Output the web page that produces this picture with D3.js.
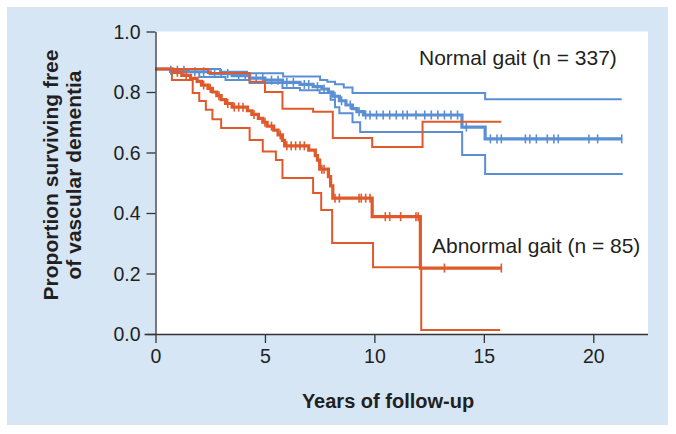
<!DOCTYPE html>
<html><head><meta charset="utf-8">
<script src="https://cdn.jsdelivr.net/npm/d3@7"></script>
<style>
html,body{margin:0;padding:0;background:#fff;}
text{font-family:"Liberation Sans",Arial,Helvetica,sans-serif;fill:#231f20;}
</style></head>
<body><svg id="c" width="676" height="434"></svg>
<script>
// ---- data (years, proportion surviving) ----
const normalMain = [[0,0.876],[0.7,0.872],[1.5,0.867],[2.5,0.861],[3.5,0.854],[4.3,0.846],[5.0,0.839],[5.8,0.832],[6.6,0.825],[7.2,0.818],[7.6,0.81],[7.9,0.80],[8.1,0.786],[8.4,0.771],[8.7,0.757],[9.0,0.745],[9.2,0.735],[9.5,0.724],[14.0,0.684],[15.06,0.645],[21.3,0.645]];
const normalUpper = [[0,0.876],[2.95,0.867],[4.18,0.862],[5.83,0.851],[7.52,0.840],[7.85,0.834],[8.2,0.826],[8.6,0.815],[9.0,0.797],[15.06,0.776],[21.3,0.776]];
const normalLower = [[0,0.876],[0.66,0.866],[2.0,0.85],[3.2,0.84],[4.3,0.83],[5.8,0.813],[6.6,0.806],[7.5,0.797],[8.0,0.774],[8.2,0.75],[8.4,0.73],[9.0,0.70],[9.35,0.668],[14.01,0.592],[15.06,0.529],[21.35,0.529]];
const normalCensor = [0.7,1.0,1.3,1.8,2.2,2.7,3.0,3.3,3.8,4.1,4.6,4.9,5.3,5.6,6.0,6.3,6.8,7.0,7.4,7.7,8.2,8.5,8.9,9.3,9.6,9.8,10.1,10.4,10.7,11.0,11.3,11.5,11.9,12.3,12.6,12.9,13.2,13.5,13.8,14.2,15.3,15.6,15.8,16.9,17.1,17.4,17.9,18.2,18.4,19.8,20.2,21.3];

const abnormalMain = [[0,0.876],[0.8,0.865],[1.2,0.855],[1.6,0.845],[1.9,0.835],[2.1,0.823],[2.4,0.812],[2.6,0.80],[2.8,0.788],[3.0,0.775],[3.2,0.762],[3.5,0.75],[4.2,0.738],[4.4,0.726],[4.7,0.713],[4.9,0.70],[5.1,0.687],[5.4,0.674],[5.6,0.658],[5.8,0.64],[5.9,0.622],[7.0,0.608],[7.3,0.59],[7.4,0.575],[7.5,0.545],[7.9,0.52],[8.0,0.49],[8.1,0.449],[9.9,0.388],[12.1,0.218],[15.8,0.218]];
const abnormalUpper = [[0,0.876],[2.4,0.863],[4.3,0.834],[5.0,0.80],[5.8,0.745],[7.2,0.735],[8.1,0.648],[9.9,0.618],[12.2,0.702],[15.8,0.702]];
const abnormalLower = [[0,0.876],[0.75,0.84],[1.7,0.797],[2.0,0.77],[2.3,0.741],[2.6,0.71],[3.0,0.681],[4.3,0.641],[4.9,0.603],[5.5,0.575],[5.8,0.516],[7.2,0.466],[7.57,0.41],[8.07,0.301],[9.94,0.221],[12.14,0.013],[15.75,0.013]];
const abnormalCensor = [1.0,1.4,2.2,2.5,2.9,3.3,3.6,3.8,4.0,4.5,5.0,5.3,5.7,6.0,6.2,6.4,6.6,6.8,7.6,7.7,8.2,8.4,9.3,9.4,9.6,9.8,10.5,10.7,11.2,11.9,12.0,13.2,15.8];

const xTicks = [0,5,10,15,20];
const yTicks = [0,0.2,0.4,0.6,0.8,1.0];
const labels = {normal:"Normal gait (n = 337)", abnormal:"Abnormal gait (n = 85)", x:"Years of follow-up", y1:"Proportion surviving free", y2:"of vascular dementia"};

// ---- drawing ----
const svg = d3.select("#c");
const blue = "#5b8fd3", red = "#e0592b";
const x = d3.scaleLinear().domain([0,22.5]).range([155.5,648]);
const y = d3.scaleLinear().domain([0,1]).range([334,31.5]);

svg.append("rect").attr("x",7).attr("y",7).attr("width",661).attr("height",418).attr("fill","#d6e6f5");
svg.append("rect").attr("x",155.5).attr("y",31.5).attr("width",492.5).attr("height",302.5).attr("fill","#fff");

const line = d3.line().x(d=>x(d[0])).y(d=>y(d[1])).curve(d3.curveStepAfter);
function stepAt(data,t){let s=data[0][1];for(const d of data){if(d[0]<=t)s=d[1];else break;}return s;}

function drawGroup(main,up,lo,cens,col){
  const g=svg.append("g");
  [up,lo].forEach(d=>g.append("path").attr("d",line(d)).attr("fill","none").attr("stroke",col).attr("stroke-width",2));
  g.append("path").attr("d",line(main)).attr("fill","none").attr("stroke",col).attr("stroke-width",3.2);
  g.selectAll("line.c").data(cens).enter().append("line")
    .attr("x1",t=>x(t)).attr("x2",t=>x(t))
    .attr("y1",t=>y(stepAt(main,t))-4.5).attr("y2",t=>y(stepAt(main,t))+4.5)
    .attr("stroke",col).attr("stroke-width",1.6);
}
drawGroup(normalMain,normalUpper,normalLower,normalCensor,blue);
drawGroup(abnormalMain,abnormalUpper,abnormalLower,abnormalCensor,red);

// axes
const ax = svg.append("g").attr("transform","translate(0,334)")
  .call(d3.axisBottom(x).tickValues(xTicks).tickSize(9).tickSizeOuter(0).tickPadding(6));
ax.select(".domain").attr("d","M144.5,0.5H648");
const ay = svg.append("g").attr("transform","translate(155.5,0)")
  .call(d3.axisLeft(y).tickValues(yTicks).tickFormat(d3.format(".1f")).tickSize(9).tickSizeOuter(0).tickPadding(6));
[ax,ay].forEach(a=>{a.selectAll("path,line").attr("stroke","#333").attr("stroke-width",1.3);
  a.selectAll("text").style("font-family","'Liberation Sans',Arial,sans-serif").style("font-size","19.5px").attr("fill","#231f20");});
ay.selectAll("text").attr("dy","0.35em");

svg.append("text").attr("x",419).attr("y",65).style("font-size","21px").text(labels.normal);
svg.append("text").attr("x",432).attr("y",253).style("font-size","21px").text(labels.abnormal);
svg.append("text").attr("x",388).attr("y",408).attr("text-anchor","middle").style("font-size","20px").style("font-weight","bold").text(labels.x);
svg.append("text").attr("transform","translate(58,175) rotate(-90)").attr("text-anchor","middle").style("font-size","21px").style("font-weight","bold").text(labels.y1);
svg.append("text").attr("transform","translate(81,175) rotate(-90)").attr("text-anchor","middle").style("font-size","21px").style("font-weight","bold").text(labels.y2);
</script></body></html>
